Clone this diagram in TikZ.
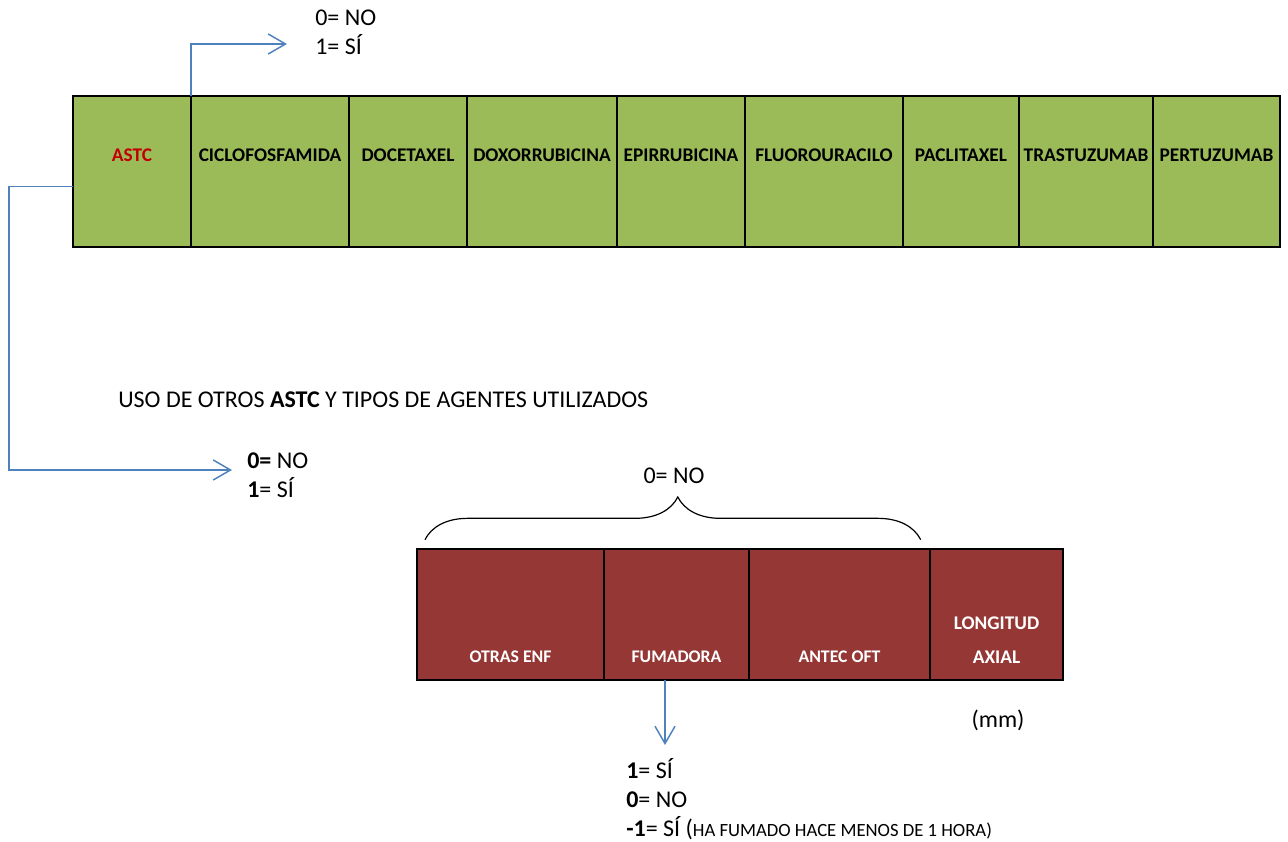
\documentclass[tikz,border=0pt]{standalone}
\usepackage{fontspec}
\setmainfont{Carlito}
\usepackage{tikz}
\usetikzlibrary{arrows.meta, positioning, calc, decorations.pathreplacing}
\definecolor{cellGreen}{HTML}{9BBB59}
\definecolor{cellRed}{HTML}{953735}
\definecolor{arrowBlue}{HTML}{4F81BD}
\definecolor{astcRed}{HTML}{C00000}

\begin{document}
\begin{tikzpicture}[
    x=0.75pt, y=-0.75pt,
    gcell/.style={rectangle, draw=black, line width=0.9pt, fill=cellGreen, outer sep=0pt, inner sep=0pt,
      minimum height=113.25pt, text height=49pt, text depth=64.25pt,
      font=\fontsize{14.5}{17}\selectfont\bfseries},
    rcell/.style={rectangle, draw=black, line width=0.9pt, fill=cellRed, outer sep=0pt, inner sep=0pt,
      minimum height=98.25pt},
    rtxt/.style={inner sep=0pt, text=white, align=center, font=\fontsize{13.3}{25.5}\selectfont\bfseries},
    txt/.style={inner sep=0pt, align=left, font=\fontsize{18}{21.5}\selectfont},
    barb/.style={-{Straight Barb[length=13pt, width=15pt]}, line width=1.1pt, draw=arrowBlue}
  ]
  \useasboundingbox (0,0) rectangle (1288,842);

  % green row of agents
  \node[gcell, anchor=north west, minimum width=88.5pt, text=astcRed] (astc) at (73,96) {ASTC};
  \node[gcell, minimum width=118.5pt, right=0pt of astc] (ciclo) {CICLOFOSFAMIDA};
  \node[gcell, minimum width=88.5pt, right=0pt of ciclo] (doce) {DOCETAXEL};
  \node[gcell, minimum width=112.5pt, right=0pt of doce] (doxo) {DOXORRUBICINA};
  \node[gcell, minimum width=96pt, right=0pt of doxo] (epi) {EPIRRUBICINA};
  \node[gcell, minimum width=118.5pt, right=0pt of epi] (fluo) {FLUOROURACILO};
  \node[gcell, minimum width=87pt, right=0pt of fluo] (pacli) {PACLITAXEL};
  \node[gcell, minimum width=100.5pt, right=0pt of pacli] (trastu) {TRASTUZUMAB};
  \node[gcell, minimum width=95.25pt, right=0pt of trastu] (pertu) {PERTUZUMAB};
  \draw[line width=1.5pt] (astc.north west) rectangle (pertu.south east);

  % answers for the first cell
  \node[txt, anchor=west] (astcOpts) at (315,32) {0= NO\\1= SÍ};
  \coordinate (topTip) at (287,44);
  \draw[barb] (astc.north east) |- (topTip);

  \node[txt, anchor=west] (title) at (118,400) {USO DE OTROS \textbf{ASTC} Y TIPOS DE AGENTES UTILIZADOS};

  \node[txt, anchor=west] (agentOpts) at (247,475) {\textbf{0=} NO\\\textbf{1}= SÍ};
  \coordinate (leftCorner) at (9,470);
  \coordinate (leftTip) at (232,470);
  \draw[barb] ([yshift=-11.25pt]astc.west) -| (leftCorner) -- (leftTip);

  % red row
  \node[rcell, anchor=north west, minimum width=140.25pt] (otras) at (417,549) {};
  \node[rcell, minimum width=108.75pt, right=0pt of otras] (fuma) {};
  \node[rcell, minimum width=135.75pt, right=0pt of fuma] (antec) {};
  \node[rcell, minimum width=99.75pt, right=0pt of antec] (longi) {};
  \draw[line width=1.5pt] (otras.north west) rectangle (longi.south east);
  \node[rtxt] (otrasTxt) at ([yshift=17.25pt]otras.south) {OTRAS ENF};
  \node[rtxt] (fumaTxt) at ([yshift=17.25pt]fuma.south) {FUMADORA};
  \node[rtxt] (antecTxt) at ([yshift=17.25pt]antec.south) {ANTEC OFT};
  \node[rtxt, font=\fontsize{14.5}{25.5}\selectfont\bfseries] (longiTxt) at ([yshift=30pt]longi.south) {LONGITUD\\AXIAL};

  \draw[line width=0.9pt, decorate, decoration={brace, amplitude=32pt, aspect=0.51}]
    ([xshift=6pt, yshift=7pt]otras.north west) -- ([xshift=-7pt, yshift=7pt]antec.north east);
  \node[txt] (braceTxt) at (674,476) {0= NO};

  \node[txt] (mmTxt) at (998,720) {(mm)};

  % smoking answers
  \coordinate (smokeTip) at (665,745);
  \draw[barb] (fuma.south -| smokeTip) -- (smokeTip);
  \node[txt, anchor=west] (smokeOpts) at (626,799) {\textbf{1}= SÍ\\\textbf{0}= NO\\\textbf{-1}= SÍ ({\fontsize{14}{21.5}\selectfont HA FUMADO HACE MENOS DE 1 HORA)}};
\end{tikzpicture}
\end{document}
